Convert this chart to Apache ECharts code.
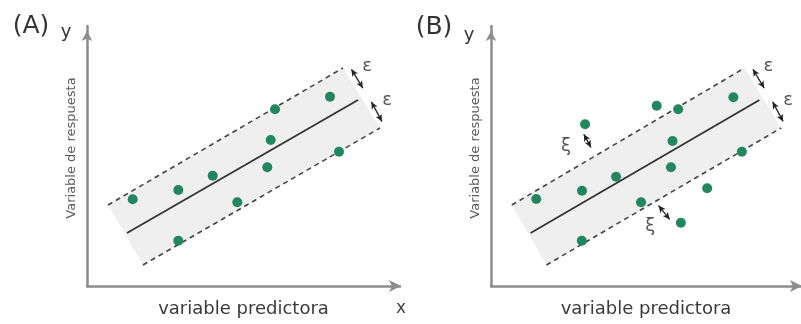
<!DOCTYPE html>
<html><head><meta charset="utf-8">
<script src="https://cdn.jsdelivr.net/npm/echarts/dist/echarts.min.js"></script>
<style>html,body{margin:0;padding:0;background:#fff}#c{width:801px;height:324px}</style>
</head><body><div id="c"></div>
<script>
// ---- data (abstract units, axes 0..10) ----
const panelTags = ['(A)', '(B)'];
const axisTitleX = 'variable predictora';
const axisTitleY = 'Variable de respuesta';
// epsilon tube corners (TL, TR, BR, BL)
const bandX = [0.671, 8.179, 9.361, 1.789];
const bandY = [3.115, 8.385, 6.077, 0.808];
const upperLine = [[0.671, 3.115], [8.179, 8.385]];
const lowerLine = [[1.789, 0.808], [9.361, 6.077]];
const fitLine = [[1.278, 2.038], [8.658, 7.154]];
const pointsA = [[1.460, 3.335], [2.917, 3.692], [4.016, 4.242], [4.802, 3.219], [2.917, 1.742],
  [6.006, 6.796], [5.869, 5.615], [5.760, 4.565], [7.764, 7.281], [8.051, 5.165]];
const pointsB = [[1.460, 3.346], [2.936, 3.665], [4.035, 4.204], [4.840, 3.219], [2.930, 1.742],
  [5.345, 6.935], [6.038, 6.796], [5.856, 5.577], [5.805, 4.565], [7.818, 7.258], [8.093, 5.165],
  [6.974, 3.758], [3.035, 6.219], [6.125, 2.435]];
const epsArrows = [[[8.450, 8.335], [8.812, 7.612]], [[9.086, 7.081], [9.422, 6.331]]];
const epsLabels = [[8.946, 8.430, 'ε'], [9.585, 7.150, 'ε']];
const xiArrows = [[[2.994, 5.835], [3.224, 5.331]], [[5.406, 3.092], [5.764, 2.562]]];
const xiLabels = [[2.419, 5.358, 'ξ'], [5.134, 2.281, 'ξ']];

const FONT = 'DejaVu Sans';
const grids = [
  {left: 87, top: 26, width: 313, height: 260},
  {left: 491, top: 26, width: 313, height: 260}
];
const xAxes = [], yAxes = [], series = [];
grids.forEach((g, i) => {
  xAxes.push({
    gridIndex: i, type: 'value', min: 0, max: 10,
    axisLine: {show: true, onZero: false, lineStyle: {color: '#8c8c8c', width: 2.5},
      symbol: ['none', 'arrow'], symbolSize: [9, 12], symbolOffset: [0, 1]},
    axisTick: {show: false}, axisLabel: {show: false}, splitLine: {show: false},
    name: axisTitleX, nameLocation: 'middle', nameGap: 14,
    nameTextStyle: {fontFamily: FONT, fontSize: 18, color: '#3a3a3a'}
  });
  yAxes.push({
    gridIndex: i, type: 'value', min: 0, max: 10,
    axisLine: {show: true, onZero: false, lineStyle: {color: '#8c8c8c', width: 2.5},
      symbol: ['none', 'arrow'], symbolSize: [8, 10], symbolOffset: [0, -5]},
    axisTick: {show: false}, axisLabel: {show: false}, splitLine: {show: false},
    name: axisTitleY, nameLocation: 'middle', nameGap: 9, nameRotate: 90,
    nameTextStyle: {fontFamily: FONT, fontSize: 13, color: '#5a5a5a', padding: [0, 0, 0, 16]}
  });
  series.push({
    type: 'custom', xAxisIndex: i, yAxisIndex: i, z: 1, silent: true,
    data: [[bandX[0], bandY[0]]],
    renderItem: function (params, api) {
      const pts = bandX.map((x, k) => api.coord([x, bandY[k]]));
      return {type: 'polygon', shape: {points: pts}, style: {fill: '#efefef'}};
    }
  });
  [upperLine, lowerLine].forEach(d => series.push({
    type: 'line', xAxisIndex: i, yAxisIndex: i, z: 2, data: d, symbol: 'none', silent: true,
    lineStyle: {color: '#444', width: 1.6, type: [5, 4]}
  }));
  series.push({
    type: 'line', xAxisIndex: i, yAxisIndex: i, z: 2, data: fitLine, symbol: 'none', silent: true,
    lineStyle: {color: '#333', width: 1.8}
  });
  const arrows = i === 0 ? epsArrows : epsArrows.concat(xiArrows);
  const labels = i === 0 ? epsLabels : epsLabels.concat(xiLabels);
  series.push({
    type: 'scatter', xAxisIndex: i, yAxisIndex: i, z: 3, silent: true,
    data: i === 0 ? pointsA : pointsB, symbolSize: 10,
    itemStyle: {color: '#22875f', opacity: 1},
    markLine: {
      silent: true, animation: false, symbol: ['arrow', 'arrow'], symbolSize: [5, 7],
      label: {show: false}, lineStyle: {color: '#222', width: 1.3, type: 'solid'},
      data: arrows.map(a => [{coord: a[0]}, {coord: a[1]}])
    }
  });
  series.push({
    type: 'scatter', xAxisIndex: i, yAxisIndex: i, z: 5, silent: true,
    data: labels, symbolSize: 1, itemStyle: {color: 'rgba(0,0,0,0)'},
    label: {show: true, position: 'inside', formatter: p => p.value[2],
      fontFamily: FONT, fontSize: 18, color: '#2a2a2a'}
  });
});

const graphic = [
  {type: 'text', x: 31, y: 26, style: {text: panelTags[0], font: '25px "DejaVu Sans"', fill: '#333', align: 'center', verticalAlign: 'middle'}},
  {type: 'text', x: 434, y: 27, style: {text: panelTags[1], font: '25px "DejaVu Sans"', fill: '#333', align: 'center', verticalAlign: 'middle'}},
  {type: 'text', x: 66, y: 32, style: {text: 'y', font: '18px "DejaVu Sans"', fill: '#333', align: 'center', verticalAlign: 'middle'}},
  {type: 'text', x: 469, y: 35, style: {text: 'y', font: '18px "DejaVu Sans"', fill: '#333', align: 'center', verticalAlign: 'middle'}},
  {type: 'text', x: 401, y: 309, style: {text: 'x', font: '17px "DejaVu Sans"', fill: '#444', align: 'center', verticalAlign: 'middle'}},
  {type: 'text', x: 806, y: 309, style: {text: 'x', font: '17px "DejaVu Sans"', fill: '#444', align: 'center', verticalAlign: 'middle'}}
];

const chart = echarts.init(document.getElementById('c'), null, {renderer: 'canvas'});
chart.setOption({
  animation: false, backgroundColor: '#fff',
  grid: grids, xAxis: xAxes, yAxis: yAxes, series: series, graphic: graphic
});
</script></body></html>
